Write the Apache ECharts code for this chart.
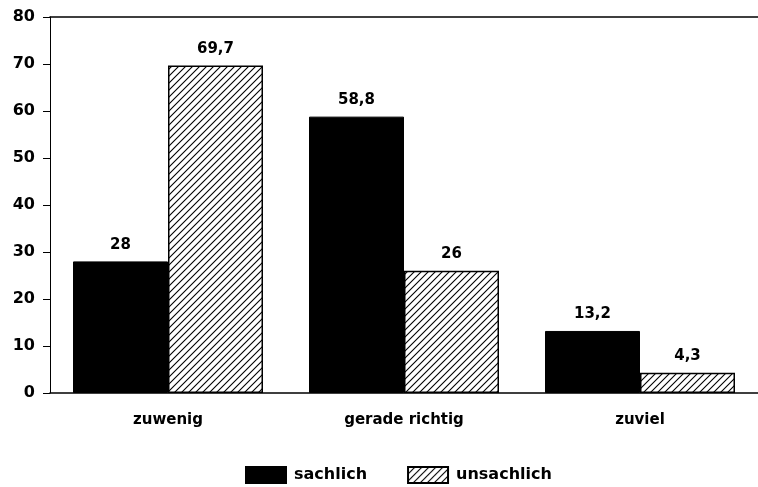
<!DOCTYPE html>
<html>
<head>
<meta charset="utf-8">
<script src="https://cdn.jsdelivr.net/npm/echarts@6/dist/echarts.min.js"></script>
<style>
  html, body { margin: 0; padding: 0; background: #fff; }
  #chart { width: 758px; height: 487px; }
</style>
</head>
<body>
<div id="chart"></div>
<script>
const categories = ['zuwenig', 'gerade richtig', 'zuviel']
const sachlich = [28, 58.8, 13.2]
const unsachlich = [69.7, 26, 4.3]
const seriesNames = ['sachlich', 'unsachlich']

// diagonal hatch tile for the "unsachlich" bars
function hatchPattern() {
  const size = 7
  const c = document.createElement('canvas')
  c.width = size
  c.height = size
  const ctx = c.getContext('2d')
  ctx.fillStyle = '#fff'
  ctx.fillRect(0, 0, size, size)
  ctx.strokeStyle = '#000'
  ctx.lineWidth = 1.1
  ctx.beginPath()
  ctx.moveTo(-1, size + 1); ctx.lineTo(size + 1, -1)
  ctx.moveTo(-2, 2); ctx.lineTo(2, -2)
  ctx.moveTo(size - 2, size + 2); ctx.lineTo(size + 2, size - 2)
  ctx.stroke()
  return { image: c, repeat: 'repeat' }
}

const font = '"DejaVu Sans", Verdana, sans-serif'
const fmt = p => String(p.value).replace('.', ',')
const valueLabel = { show: true, position: 'top', distance: 9, formatter: fmt, fontFamily: font, fontSize: 15, fontWeight: 'bold', color: '#000' }

const chart = echarts.init(document.getElementById('chart'), null, { renderer: 'canvas' })
chart.setOption({
  animation: false,
  backgroundColor: '#fff',
  textStyle: { fontFamily: font, color: '#000', fontWeight: 'bold' },
  grid: { left: 50, top: 17, width: 715, height: 376, containLabel: false },
  legend: {
    left: 240,
    top: 461,
    itemWidth: 40,
    itemHeight: 16,
    itemGap: 40,
    icon: 'rect',
    textStyle: { fontFamily: font, fontSize: 16, fontWeight: 'bold', color: '#000', padding: [0, 0, 0, 3] },
    data: seriesNames
  },
  xAxis: [{
    type: 'category',
    data: categories,
    axisLine: { lineStyle: { color: '#000', width: 1.5 } },
    axisTick: { alignWithLabel: true, length: 7, lineStyle: { color: '#000', width: 1 } },
    axisLabel: { fontFamily: font, fontSize: 15, fontWeight: 'bold', color: '#000', margin: 20 }
  }, {
    type: 'category',
    position: 'top',
    data: categories,
    axisLine: { lineStyle: { color: '#000', width: 1.5 } },
    axisTick: { show: false },
    axisLabel: { show: false }
  }],
  yAxis: {
    type: 'value',
    min: 0,
    max: 80,
    interval: 10,
    axisLine: { show: true, lineStyle: { color: '#000', width: 1 } },
    axisTick: { show: true, length: 7, lineStyle: { color: '#000', width: 1 } },
    splitLine: { show: false },
    axisLabel: { fontFamily: font, fontSize: 16, fontWeight: 'bold', color: '#000', margin: 15 }
  },
  series: [{
    name: seriesNames[0],
    type: 'bar',
    barWidth: 95,
    barGap: '0%',
    data: sachlich,
    itemStyle: { color: '#000', borderColor: '#000', borderWidth: 1 },
    label: valueLabel
  }, {
    name: seriesNames[1],
    type: 'bar',
    barWidth: 95,
    barGap: '0%',
    data: unsachlich,
    itemStyle: { color: hatchPattern(), borderColor: '#000', borderWidth: 1.5 },
    label: valueLabel
  }]
})
</script>
</body>
</html>
